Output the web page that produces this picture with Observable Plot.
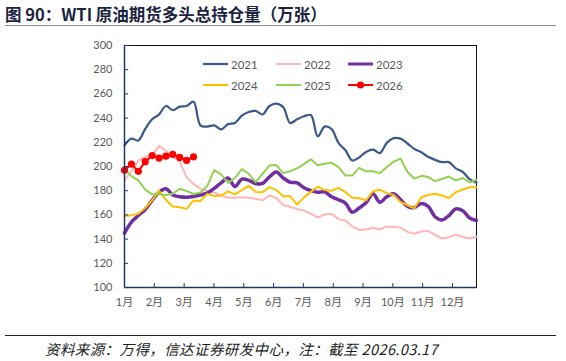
<!DOCTYPE html>
<html>
<head>
<meta charset="utf-8">
<script src="https://cdn.jsdelivr.net/npm/d3@7"></script>
<script src="https://cdn.jsdelivr.net/npm/@observablehq/plot@0.6"></script>
<style>
  html, body { margin: 0; padding: 0; background: #fff; }
  #wrap { position: relative; width: 566px; height: 361px; overflow: hidden; font-family: Lato, "Noto Sans CJK SC", sans-serif; }
  #title { position: absolute; left: 5px; top: 2px; font: bold 16.5px "Noto Sans CJK SC", "Liberation Sans", sans-serif; color: #1b2340; white-space: nowrap; }
  #title-rule { position: absolute; left: 5px; top: 25px; width: 551px; height: 0; border-top: 1.5px solid #8c8c8c; }
  #foot-rule { position: absolute; left: 5px; top: 335px; width: 551px; height: 0; border-top: 1px solid #222; }
  #foot { position: absolute; left: 45px; top: 338px; font: italic 14.5px "Noto Sans CJK SC", sans-serif; letter-spacing: 0.4px; color: #222; white-space: nowrap; }
  #chart { position: absolute; left: 0; top: 0; }
  .leg { position: absolute; display: flex; align-items: center; font: 11.5px Lato, sans-serif; color: #595959; }
  .leg svg { margin-right: 3px; }
</style>
</head>
<body>
<div id="wrap">
  <div id="chart"></div>
  <div id="title">图 90：WTI 原油期货多头总持仓量（万张）</div>
  <div id="title-rule"></div>
  <div id="legend"></div>
  <div id="foot-rule"></div>
  <div id="foot">资料来源：万得，信达证券研发中心，注：截至 2026.03.17</div>
</div>
<script>
// Weekly long positions, 10k contracts, one value per reporting week
const yr2021 = [217.4, 223, 221.5, 231, 239, 243, 250, 246.5, 249.5, 250, 253.5, 234, 233, 234, 230.6, 235, 236, 242, 245, 246, 243, 250, 252, 249, 236, 239, 241.5, 242.5, 225, 233, 231, 219.5, 213.5, 205, 207.5, 212, 214, 211, 219.5, 223.4, 223, 219, 214.5, 211.8, 208, 205.5, 203.6, 203.6, 198.5, 195.5, 189.5, 186.5];
const yr2022 = [188.5, 196, 205, 208, 209, 217, 213, 208, 204, 191, 185.5, 181.6, 180, 178.5, 176, 174.2, 174.1, 174.6, 174.1, 173.3, 172, 176, 174, 168.3, 166.5, 165, 163.5, 161, 158, 160.3, 161, 156.5, 155.4, 150.5, 147.5, 148, 149.3, 148, 150.4, 150, 149.6, 146, 144.4, 146.3, 146.8, 143.5, 140.5, 141.6, 143.5, 142, 140.5, 142];
const yr2023 = [145, 154, 159.5, 164.5, 172, 178.8, 181.6, 176.5, 175, 174.6, 175.2, 176.5, 178, 182, 186.5, 190.5, 183.5, 189.5, 188.5, 186, 186, 191.5, 195.5, 190.5, 187, 186.5, 182.5, 180, 178.8, 179, 175, 172.5, 169.8, 162.2, 165.7, 170, 177.5, 170.5, 175, 177.5, 172.5, 167, 166, 169.5, 167, 158.5, 155.8, 159.5, 165, 163.4, 157.5, 155.4];
const yr2024 = [159, 159.8, 161, 165.7, 172, 180, 172.5, 167, 166.3, 165, 172, 171.5, 177.4, 175.5, 176, 179.5, 177, 180.5, 184, 179, 178.8, 182.9, 180.5, 175.5, 175.5, 168.5, 174.5, 179, 183.3, 180.5, 180, 182.3, 178.8, 174.1, 173.8, 172, 179.6, 180.8, 178, 176.5, 170.5, 168, 165.5, 174.6, 176.5, 177.5, 176, 174, 178.8, 181, 182.9, 182.9];
const yr2025 = [198, 192, 188.6, 181, 177, 177, 176.5, 177.5, 181.6, 179.8, 177.3, 178.5, 184, 197, 193.5, 186.5, 190.5, 197.8, 194, 187, 194, 200.9, 201.2, 194.5, 196, 198.5, 202, 206, 201, 202.3, 203.2, 199.5, 192.6, 192.5, 198.8, 196, 196.1, 194.5, 199.6, 204, 206.5, 195.5, 190, 192.3, 191.3, 188, 189.7, 191.7, 188.5, 190.5, 187, 189];
const yr2026 = [197, 202, 196, 204, 209, 207, 208.5, 210, 207.5, 205, 208];

const seriesNames = ["2021", "2022", "2023", "2024", "2025", "2026"];
const seriesValues = [yr2021, yr2022, yr2023, yr2024, yr2025, yr2026];

const months = ["1月", "2月", "3月", "4月", "5月", "6月", "7月", "8月", "9月", "10月", "11月", "12月"];
const yTicks = [100, 120, 140, 160, 180, 200, 220, 240, 260, 280, 300];

// Line styling per year
const styles = {
  "2021": {stroke: "#3b5a8a", width: 2.25, curve: "catmull-rom"},
  "2022": {stroke: "#ffb6b6", width: 2, curve: "linear"},
  "2023": {stroke: "#7030a0", width: 3.5, curve: "catmull-rom"},
  "2024": {stroke: "#ffc000", width: 2, curve: "linear"},
  "2025": {stroke: "#92d050", width: 2, curve: "linear"},
  "2026": {stroke: "#ff0000", width: 2, curve: "linear"}
};

const rows = seriesNames.map((name, s) =>
  seriesValues[s].map((v, i) => ({year: name, week: i, value: v}))
);

// Month boundaries along the week axis
const monthPos = months.map((m, i) => ({x: i * 4.32, label: m}));

const lineMarks = rows.map((data, s) => {
  const st = styles[seriesNames[s]];
  return Plot.line(data, {x: "week", y: "value", stroke: st.stroke, strokeWidth: st.width, curve: st.curve, strokeLinejoin: "round"});
});

const axisColor = "#203864";

const chart = Plot.plot({
  width: 566,
  height: 361,
  marginLeft: 124,
  marginRight: 90,
  marginTop: 45,
  marginBottom: 74,
  style: {background: "transparent", fontFamily: "Lato, 'Noto Sans CJK SC', sans-serif"},
  x: {domain: [0, 51], axis: null},
  y: {domain: [100, 300], axis: null},
  marks: [
    Plot.frame({stroke: "#111", strokeWidth: 1}),
    ...lineMarks,
    Plot.dot(rows[5], {x: "week", y: "value", r: 3.6, fill: "#ff0000", stroke: "none"}),
    Plot.ruleX([0], {stroke: axisColor, strokeWidth: 1.5}),
    Plot.ruleY([100], {stroke: axisColor, strokeWidth: 1.5}),
    Plot.ruleY(yTicks, {y: d => d, x1: 0, x2: 0.6, stroke: axisColor}),
    Plot.ruleX(monthPos, {x: "x", y1: 100, y2: 103.3, stroke: axisColor}),
    Plot.axisY(yTicks, {anchor: "left", label: null, tickSize: 0, tickPadding: 12, fontSize: 11, fill: "#595959"}),
    Plot.text(monthPos, {x: "x", y: 100, text: "label", dy: 15, fontSize: 11, fill: "#595959"})
  ]
});
document.getElementById("chart").appendChild(chart);

// Legend: two rows of three entries
const legend = document.getElementById("legend");
const legendCols = [203, 276, 348];
const legendRows = [64, 85];
seriesNames.forEach((name, i) => {
  const st = styles[name];
  const el = document.createElement("div");
  el.className = "leg";
  el.style.left = legendCols[i % 3] + "px";
  el.style.top = (legendRows[Math.floor(i / 3)] - 8) + "px";
  el.style.height = "16px";
  const dot = name === "2026" ? `<circle cx="12.5" cy="5" r="3.6" fill="${st.stroke}"/>` : "";
  el.innerHTML = `<svg width="25" height="10"><line x1="0" x2="25" y1="5" y2="5" stroke="${st.stroke}" stroke-width="${Math.min(st.width, 3)}"/>${dot}</svg><span>${name}</span>`;
  legend.appendChild(el);
});
</script>
</body>
</html>
